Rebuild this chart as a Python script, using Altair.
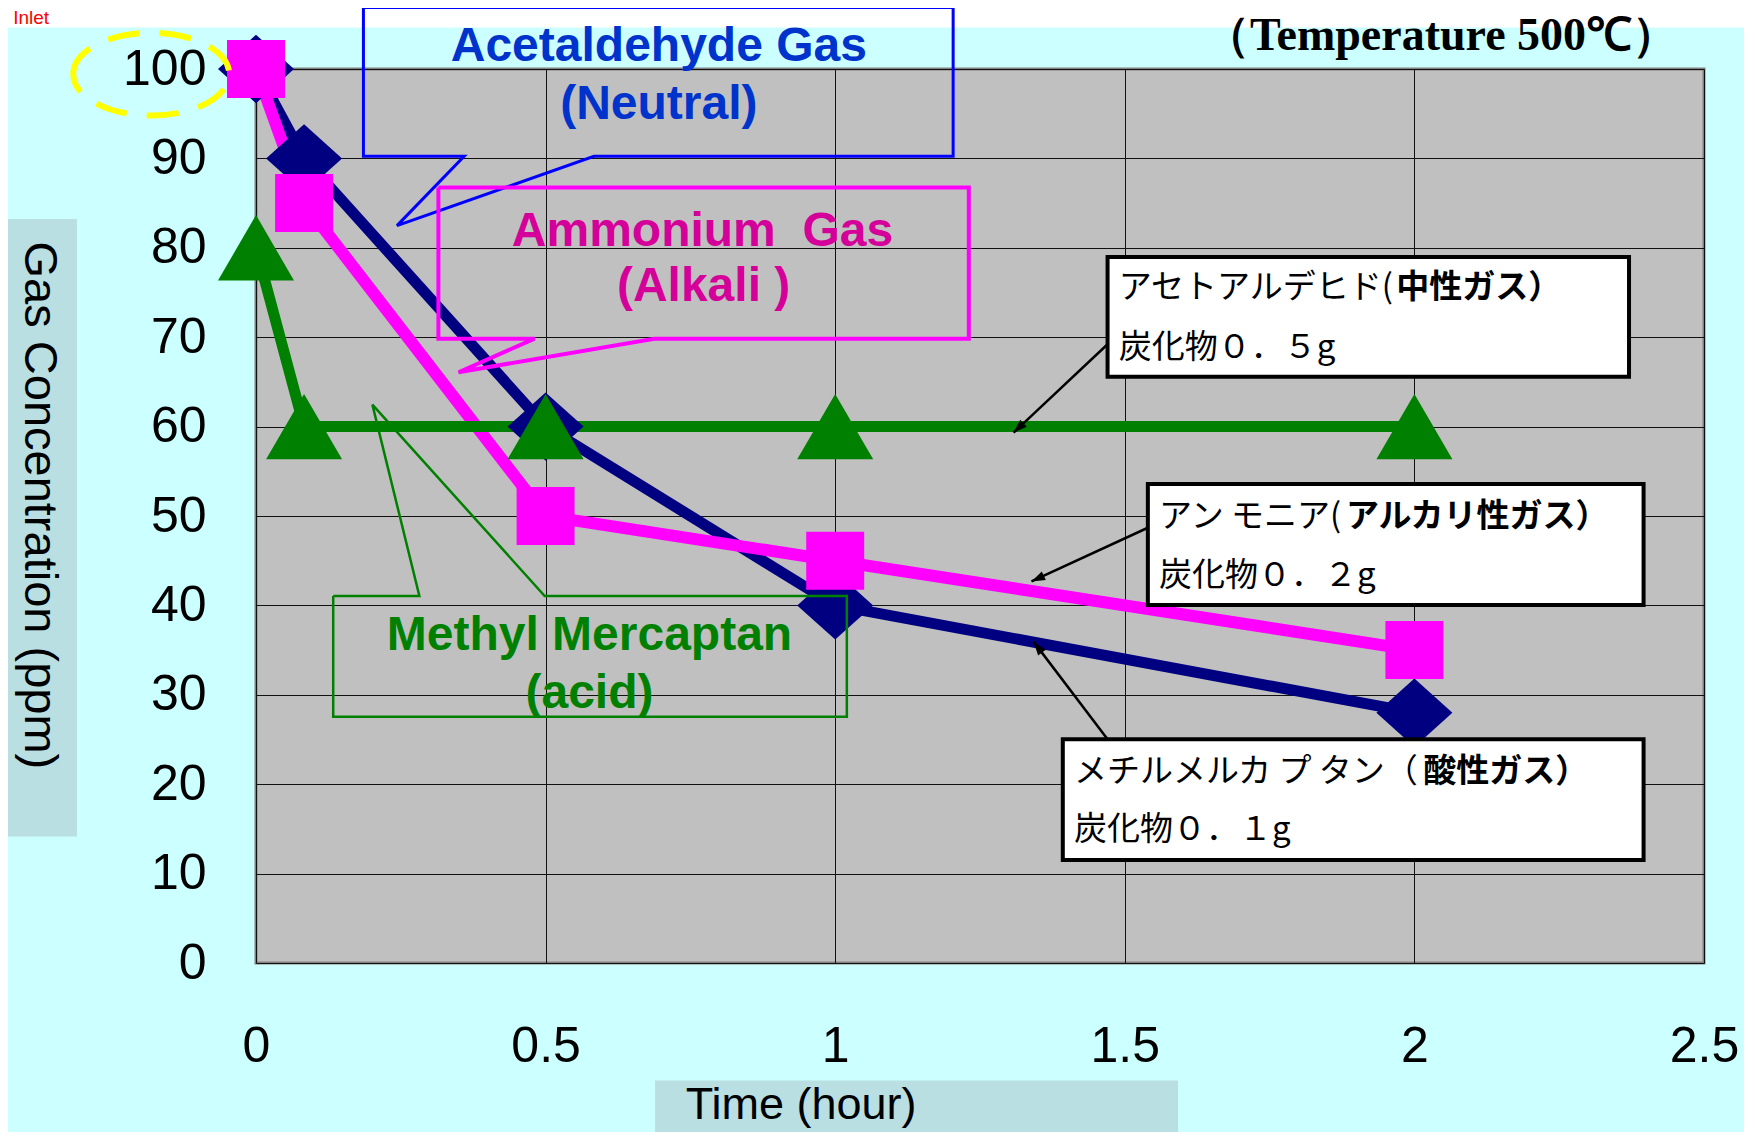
import math
import altair as alt
import pandas as pd

# ---------------- data ----------------
time_h = [0, 0.083, 0.5, 1, 2]
acetaldehyde = [100, 90, 60, 40, 28]
ammonium = [100, 85, 50, 45, 35]
mercaptan = [80, 60, 60, 60, 60]

x_ticks = [0, 0.5, 1, 1.5, 2, 2.5]
y_ticks = [0, 10, 20, 30, 40, 50, 60, 70, 80, 90, 100]

W, H = 1448, 894


def S(sx, sy):
    """reference layout position -> data coordinates (hours, ppm)"""
    return (sx - 229) / 517.6, (861 - sy) / 7.99


xs = alt.Scale(domain=[0, 2.5], nice=False, zero=False)
ys = alt.Scale(domain=[0, 100], nice=False, zero=False)

xaxis = alt.Axis(values=x_ticks, format="~g", title=None, grid=True, gridColor="#111111",
                 gridWidth=1, ticks=False, tickSize=0, domain=False, labelFontSize=50,
                 labelFont="Liberation Sans", labelColor="black", labelPadding=58,
                 labelFlush=False, labelOverlap=False)
yaxis = alt.Axis(values=y_ticks, format="d", title=None, grid=True, gridColor="#111111",
                 gridWidth=1, ticks=False, tickSize=0, domain=False, labelFontSize=50,
                 labelFont="Liberation Sans", labelColor="black", labelPadding=50,
                 labelFlush=False, labelOverlap=False)


def X(f):
    return alt.X(f, type="quantitative", scale=xs, axis=xaxis)


def Y(f):
    return alt.Y(f, type="quantitative", scale=ys, axis=yaxis)


layers = []

# ---------------- series: all lines first, then all markers ----------------
series = [
    (acetaldehyde, "#000080", 11, "M-1,0L0,-0.9L1,0L0,0.9Z", 5776),
    (ammonium, "#FF00FF", 12, "square", 3364),
    (mercaptan, "#008000", 11, "M0,-0.86L1,0.86L-1,0.86Z", 5776),
]
for vals, color, width, shape, size in series:
    df = pd.DataFrame({"t": time_h, "v": vals})
    layers.append(alt.Chart(df).mark_line(color=color, strokeWidth=width).encode(
        x=X("t"), y=Y("v")))
for vals, color, width, shape, size in series:
    df = pd.DataFrame({"t": time_h, "v": vals})
    layers.append(alt.Chart(df).mark_point(shape=shape, size=size, filled=True, color=color,
                                           opacity=1, strokeWidth=0).encode(x=X("t"), y=Y("v")))

# ---------------- top white strip ----------------
strip = pd.DataFrame([{"x": -1.0, "x2": 3.2, "y": S(0, 25)[1], "y2": 130}])
layers.append(alt.Chart(strip).mark_rect(fill="white").encode(
    x=X("x"), x2=alt.X2("x2"), y=Y("y"), y2=alt.Y2("y2")))

# ---------------- callouts ----------------
callouts = [
    ([(325, 7), (852, 7), (852, 140), (531, 140), (355, 202), (415, 140), (325, 140), (325, 7)],
     "#0000FF", 3),
    ([(392, 168), (866, 168), (866, 303), (585, 303), (410, 333), (478, 303), (392, 303), (392, 168)],
     "#FF00FF", 4),
    ([(298, 533), (375, 533), (333, 362), (487, 533), (757, 533), (757, 641), (298, 641), (298, 533)],
     "#008000", 2.5),
]
for pts, color, width in callouts:
    rows = []
    for i, p in enumerate(pts):
        x, y = S(*p)
        rows.append({"x": x, "y": y, "o": i})
    layers.append(alt.Chart(pd.DataFrame(rows)).mark_line(
        color=color, strokeWidth=width, strokeJoin="miter").encode(
        x=X("x"), y=Y("y"), order="o:Q"))

callout_text = [
    ("Acetaldehyde Gas", (589, 42), "#0033CC"),
    ("(Neutral)", (589, 94), "#0033CC"),
    ("Ammonium\u00a0\u00a0Gas", (628, 208), "#D5009A"),
    ("(Alkali )", (629, 257), "#D5009A"),
    ("Methyl Mercaptan", (527, 569), "#008000"),
    ("(acid)", (527, 621), "#008000"),
]
for txt, pos, color in callout_text:
    x, y = S(*pos)
    layers.append(alt.Chart(pd.DataFrame([{"x": x, "y": y, "t": txt}])).mark_text(
        font="Liberation Sans", fontWeight="bold", fontSize=48, color=color,
        align="center", baseline="middle").encode(x=X("x"), y=Y("y"), text="t:N"))

# ---------------- Japanese note boxes ----------------
jp_boxes = [
    ((990, 230, 1456, 337), "アセトアルデヒド(", "中性ガス）", "炭化物０．５g", 1000, 1248, 258, 311),
    ((1026, 433, 1469, 541), "アン モニア(", "アルカリ性ガス）", "炭化物０．２g", 1036, 1203, 462, 515),
    ((950, 661, 1469, 769), "メチルメルカ プ タン（", "酸性ガス）", "炭化物０．１g", 960, 1272, 690, 742),
]
arrows = [((990, 308), (906, 387)), ((1026, 472), (922, 520)), ((990, 661), (924, 574))]

arrow_lines, arrow_heads = [], []
for k, (a, b) in enumerate(arrows):
    xa, ya = S(*a)
    xb, yb = S(*b)
    arrow_lines += [{"x": xa, "y": ya, "g": k, "o": 0}, {"x": xb, "y": yb, "g": k, "o": 1}]
    ang = math.degrees(math.atan2(b[0] - a[0], -(b[1] - a[1]))) % 360
    arrow_heads.append({"x": xb, "y": yb, "a": ang})
layers.append(alt.Chart(pd.DataFrame(arrow_lines)).mark_line(color="black", strokeWidth=2.5).encode(
    x=X("x"), y=Y("y"), detail="g:N", order="o:Q"))
layers.append(alt.Chart(pd.DataFrame(arrow_heads)).mark_point(
    shape="M0,0L0.6,1.7L-0.6,1.7Z", size=256, filled=True, color="black", opacity=1,
    strokeWidth=0).encode(x=X("x"), y=Y("y"), angle=alt.Angle("a:Q", scale=None)))

box_rows, pre_rows, bold_rows, l2_rows = [], [], [], []
for (bx1, by1, bx2, by2), pre, bold, l2, tx, split, ty1, ty2 in jp_boxes:
    x1, y1 = S(bx1, by1)
    x2, y2 = S(bx2, by2)
    box_rows.append({"x": x1, "x2": x2, "y": y1, "y2": y2})
    pre_rows.append({"x": S(tx, 0)[0], "y": S(0, ty1)[1], "t": pre})
    bold_rows.append({"x": S(split, 0)[0], "y": S(0, ty1)[1], "t": bold})
    l2_rows.append({"x": S(tx, 0)[0], "y": S(0, ty2)[1], "t": l2})
layers.append(alt.Chart(pd.DataFrame(box_rows)).mark_rect(
    fill="white", stroke="black", strokeWidth=4).encode(
    x=X("x"), x2=alt.X2("x2"), y=Y("y"), y2=alt.Y2("y2")))
for rows, weight in [(pre_rows, "normal"), (bold_rows, "bold"), (l2_rows, "normal")]:
    layers.append(alt.Chart(pd.DataFrame(rows)).mark_text(
        font="Noto Sans CJK JP", fontWeight=weight, fontSize=33, color="black",
        align="left", baseline="middle").encode(x=X("x"), y=Y("y"), text="t:N"))

# ---------------- axis title boxes ----------------
title_boxes = [((0, 196), (69, 748)), ((596, 966), (1053, 1035))]
rows = []
for (a, b) in title_boxes:
    x1, y1 = S(*a)
    x2, y2 = S(*b)
    rows.append({"x": x1 - 0.02, "x2": x2, "y": y1, "y2": y2})
layers.append(alt.Chart(pd.DataFrame(rows)).mark_rect(fill="#B9DFE2").encode(
    x=X("x"), x2=alt.X2("x2"), y=Y("y"), y2=alt.Y2("y2")))

yx, yy = S(35, 452)
layers.append(alt.Chart(pd.DataFrame([{"x": yx, "y": yy, "t": "Gas Concentration (ppm)"}])).mark_text(
    font="Liberation Sans", fontSize=47, color="black", angle=90, align="center",
    baseline="middle").encode(x=X("x"), y=Y("y"), text="t:N"))
xx, xy = S(613, 988)
layers.append(alt.Chart(pd.DataFrame([{"x": xx, "y": xy, "t": "Time (hour)"}])).mark_text(
    font="Liberation Sans", fontSize=45, color="black", align="left",
    baseline="middle").encode(x=X("x"), y=Y("y"), text="t:N"))

# ---------------- header texts ----------------
tx_, ty_ = S(1288, 13)
layers.append(alt.Chart(pd.DataFrame([{"x": tx_, "y": ty_, "t": "（Temperature 500℃）"}])).mark_text(
    font="Liberation Serif", fontWeight="bold", fontSize=46, color="black", align="center",
    baseline="top").encode(x=X("x"), y=Y("y"), text="t:N"))
ix, iy = S(12, 8.5)
layers.append(alt.Chart(pd.DataFrame([{"x": ix, "y": iy, "t": "Inlet"}])).mark_text(
    font="Liberation Sans", fontSize=19, color="#FF0000", align="left",
    baseline="top").encode(x=X("x"), y=Y("y"), text="t:N"))

# ---------------- yellow dashed ellipse around 100 ----------------
ex, ey = S(135.4, 66.6)
layers.append(alt.Chart(pd.DataFrame([{"x": ex, "y": ey}])).mark_point(
    shape="M-1,0A1,0.53 0 1,1 1,0A1,0.53 0 1,1 -1,0Z", size=24336, filled=False,
    color="#FFFF00", strokeWidth=6, strokeDash=[32, 20], opacity=1).encode(x=X("x"), y=Y("y")))

chart = alt.layer(*layers).properties(
    width=W, height=H,
    padding={"left": 248, "top": 61, "right": 40, "bottom": 169},
    autosize=alt.AutoSizeParams(type="none"),
).configure(background="#CCFFFF").configure_view(
    fill="#C0C0C0", stroke="#808080", strokeWidth=3)

chart.save("out.html", embed_options={"renderer": "svg", "actions": False})
